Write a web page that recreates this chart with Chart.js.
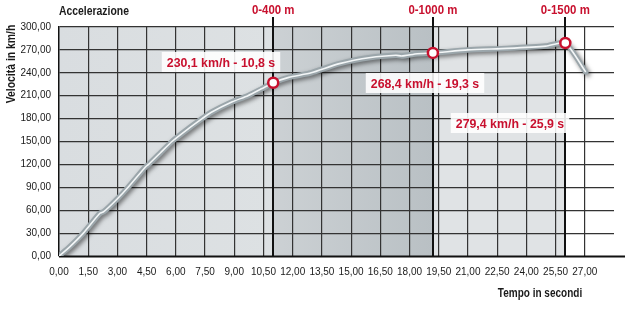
<!DOCTYPE html>
<html>
<head>
<meta charset="utf-8">
<script src="https://cdn.jsdelivr.net/npm/chart.js@4.4.1/dist/chart.umd.min.js"></script>
<style>
  html, body { margin: 0; padding: 0; background: #fff; }
  #wrap { width: 630px; height: 319px; position: relative; }
</style>
</head>
<body>
<div id="wrap"><canvas id="accChart" width="630" height="319"></canvas></div>
<script>
// curva di accelerazione
const tempi = [0, 0.55, 1.25, 2.1, 2.3, 3.0, 3.55, 4.45, 4.6, 5.2, 5.8, 6.6, 7.35, 7.8, 8.9, 9.7, 10.4, 11.0, 11.8, 12.95, 14.4, 16.0, 17.3, 17.6, 18.4, 19.2, 21.0, 23.0, 25.0, 26.0, 27.05];
const velocita = [0, 12, 30, 56, 58, 75, 90, 117, 120, 135, 150, 166, 180, 188, 202, 210, 219, 227, 234, 240, 252, 260, 263, 262, 265, 266, 270, 272, 275, 279, 241];

// punti segnati
const markerTempi = [11.0, 19.2, 26.0];
const markerVelocita = [227, 266, 279];
const markerNomi = ['0-400 m', '0-1000 m', '0-1500 m'];
const markerTesti = ['230,1 km/h - 10,8 s', '268,4 km/h - 19,3 s', '279,4 km/h - 25,9 s'];

const xStep = 1.5;
const yStep = 30;

const RED = '#c8102e';
const FONT = '"Liberation Sans", Arial, sans-serif';

function fmt(v) {
    return v.toFixed(2).replace('.', ',');
}

// testo "stretto" (il font originale è condensato)
function narrowText(ctx, txt, x, y, sx) {
    ctx.save();
    ctx.translate(x, y);
    ctx.scale(sx, 1);
    ctx.fillText(txt, 0, 0);
    ctx.restore();
}

// sfondo a fasce
const bandsPlugin = {
    id: 'bands',
    beforeDraw(chart) {
        const {ctx, chartArea, scales} = chart;
        const x = scales.x;
        const top = chartArea.top, bottom = chartArea.bottom;
        ctx.save();
        const x0 = x.getPixelForValue(0);
        const x1 = x.getPixelForValue(markerTempi[0]);
        const x2 = x.getPixelForValue(markerTempi[1]);
        const x3 = x.getPixelForValue(markerTempi[2]);
        let g = ctx.createLinearGradient(x0, 0, x1, 0);
        g.addColorStop(0, '#d9dde0');
        g.addColorStop(1, '#dde1e3');
        ctx.fillStyle = g;
        ctx.fillRect(x0, top, x1 - x0, bottom - top);
        g = ctx.createLinearGradient(x1, 0, x2, 0);
        g.addColorStop(0, '#ccd1d4');
        g.addColorStop(1, '#b9c0c4');
        ctx.fillStyle = g;
        ctx.fillRect(x1, top, x2 - x1, bottom - top);
        ctx.fillStyle = '#e0e3e5';
        ctx.fillRect(x2, top, x3 - x2, bottom - top);
        ctx.restore();
    },
    beforeDatasetsDraw(chart) {
        // linee verticali dei traguardi
        const {ctx, chartArea, scales} = chart;
        ctx.save();
        ctx.strokeStyle = '#111';
        ctx.lineWidth = 2;
        markerTempi.forEach(t => {
            const px = Math.round(scales.x.getPixelForValue(t));
            ctx.beginPath();
            ctx.moveTo(px, chartArea.top - 10);
            ctx.lineTo(px, chartArea.bottom);
            ctx.stroke();
        });
        // prolungamento asse x
        ctx.beginPath();
        ctx.moveTo(chartArea.left, chartArea.bottom + 0.5);
        ctx.lineTo(chartArea.right + 11, chartArea.bottom + 0.5);
        ctx.lineWidth = 2;
        ctx.stroke();
        ctx.restore();
    },
    beforeDatasetDraw(chart, args) {
        if (args.index === 0) {
            chart.ctx.save();
            chart.ctx.shadowColor = 'rgba(0,0,0,0.5)';
            chart.ctx.shadowBlur = 4;
            chart.ctx.shadowOffsetX = 2;
            chart.ctx.shadowOffsetY = 2;
        }
    },
    afterDatasetDraw(chart, args) {
        if (args.index === 0) chart.ctx.restore();
    },
    afterDraw(chart) {
        const {ctx, scales} = chart;
        ctx.save();
        // titoli
        ctx.fillStyle = '#1a1a1a';
        ctx.font = 'bold 13px ' + FONT;
        ctx.textBaseline = 'middle';
        ctx.textAlign = 'left';
        narrowText(ctx, 'Accelerazione', 59, 11, 0.8);
        ctx.textAlign = 'center';
        narrowText(ctx, 'Tempo in secondi', 540, 293, 0.77);
        ctx.save();
        ctx.translate(11, 64);
        ctx.rotate(-Math.PI / 2);
        narrowText(ctx, 'Velocità in km/h', 0, 0, 0.8);
        ctx.restore();

        // nomi dei traguardi
        ctx.fillStyle = RED;
        markerTempi.forEach((t, i) => {
            narrowText(ctx, markerNomi[i], scales.x.getPixelForValue(t), 10, 0.88);
        });

        // etichette con i valori
        const pos = [[221, 62], [425, 83], [510, 123]];
        const sx = 0.95;
        markerTesti.forEach((txt, i) => {
            const w = ctx.measureText(txt).width * sx;
            ctx.fillStyle = 'rgba(255,255,255,0.88)';
            ctx.fillRect(pos[i][0] - w / 2 - 5, pos[i][1] - 10, w + 10, 20);
            ctx.fillStyle = RED;
            narrowText(ctx, txt, pos[i][0], pos[i][1] + 1, sx);
        });
        ctx.restore();
    }
};

const data = {
    datasets: [
        {
            label: 'curva',
            data: tempi.map((t, i) => ({x: t, y: velocita[i]})),
            borderColor: '#9ba6ab',
            borderWidth: 5.5,
            pointRadius: 0,
            tension: 0.2,
            borderCapStyle: 'round',
            borderJoinStyle: 'round',
            order: 2
        },
        {
            label: 'riflesso',
            data: tempi.map((t, i) => ({x: t, y: velocita[i]})),
            borderColor: '#f3f6f7',
            borderWidth: 1.6,
            pointRadius: 0,
            tension: 0.2,
            order: 1
        },
        {
            label: 'traguardi',
            data: markerTempi.map((t, i) => ({x: t, y: markerVelocita[i]})),
            showLine: false,
            pointRadius: 5,
            pointBackgroundColor: '#ffffff',
            pointBorderColor: RED,
            pointBorderWidth: 2.5,
            order: 0
        }
    ]
};

const config = {
    type: 'line',
    data: data,
    options: {
        responsive: false,
        animation: false,
        events: [],
        layout: { padding: { top: 27, right: 16, left: 0, bottom: 0 } },
        plugins: {
            legend: { display: false },
            tooltip: { enabled: false }
        },
        scales: {
            x: {
                type: 'linear',
                min: 0,
                max: 28.5,
                afterFit: s => { s.height = 63; },
                border: { display: false },
                grid: {
                    drawTicks: false,
                    lineWidth: 1.2,
                    color: c => (c.tick && c.tick.value > 27.1) || (c.tick && c.tick.value === 0) ? 'rgba(0,0,0,0)' : '#333'
                },
                ticks: {
                    stepSize: xStep,
                    padding: 10,
                    color: '#1a1a1a',
                    font: { family: FONT, size: 10 },
                    maxRotation: 0,
                    autoSkip: false,
                    callback: v => v > 27.1 ? '' : fmt(v)
                }
            },
            y: {
                min: 0,
                max: 300,
                afterFit: s => { s.width = 59; },
                border: { display: true, color: '#111', width: 1.5 },
                grid: {
                    drawTicks: false,
                    lineWidth: 1.2,
                    color: c => (c.tick && c.tick.value === 0) ? 'rgba(0,0,0,0)' : '#333'
                },
                ticks: {
                    stepSize: yStep,
                    padding: 8,
                    color: '#1a1a1a',
                    font: { family: FONT, size: 10 },
                    callback: v => fmt(v)
                }
            }
        }
    },
    plugins: [bandsPlugin]
};

const accChart = new Chart(document.getElementById('accChart'), config);
</script>
</body>
</html>
